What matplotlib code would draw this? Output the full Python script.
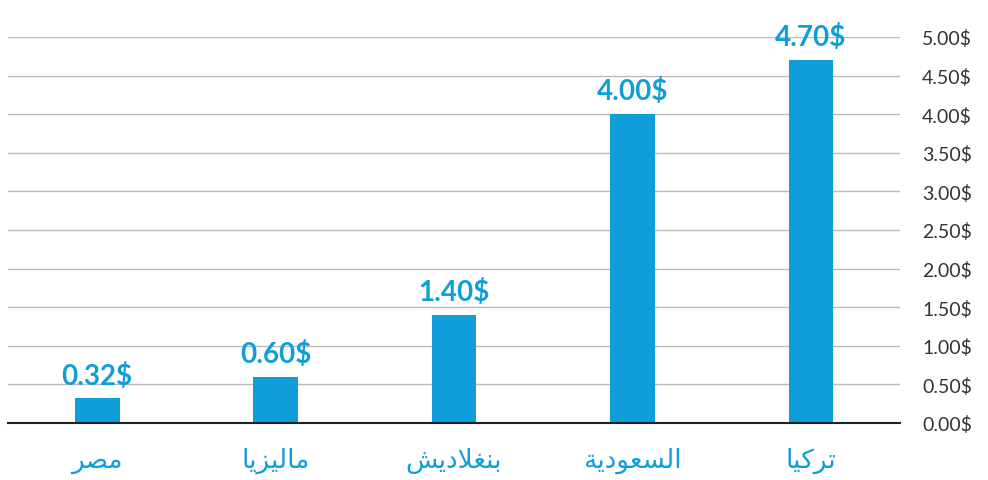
import matplotlib.pyplot as plt

# Arabic names written in presentation forms, visual (left-to-right) order,
# since matplotlib does no Arabic shaping on its own
countries = [
    "\uFEAE\uFEBC\uFEE3",                                        # مصر
    "\uFE8E\uFEF3\uFEB0\uFEF4\uFEDF\uFE8E\uFEE3",                # ماليزيا
    "\uFEB6\uFEF3\uFEA9\uFEFC\uFED0\uFEE8\uFE91",                # بنغلاديش
    "\uFE94\uFEF3\uFEA9\uFEEE\uFECC\uFEB4\uFEDF\uFE8D",          # السعودية
    "\uFE8E\uFEF4\uFEDB\uFEAE\uFE97",                            # تركيا
]
prices = [0.32, 0.60, 1.40, 4.00, 4.70]
ticks = [0, 0.5, 1.0, 1.5, 2.0, 2.5, 3.0, 3.5, 4.0, 4.5, 5.0]

blue = '#0e9fda'
plt.rcParams['font.family'] = ['Lato', 'DejaVu Sans']

fig = plt.figure(figsize=(9.88, 4.81), dpi=100)
ax = fig.add_axes([8 / 988, 57 / 481, 892 / 988, 386 / 481])

x = range(len(prices))
ax.bar(x, prices, width=0.25, color=blue, zorder=3)

for i, p in enumerate(prices):
    ax.annotate(f'{p:.2f}$', (i, p), xytext=(0, 7), textcoords='offset points',
                ha='center', va='bottom', fontsize=20, fontweight='bold',
                color=blue, annotation_clip=False)

ax.set_xlim(-0.5, 4.5)
ax.set_ylim(0, 5)
ax.set_yticks(ticks)
ax.set_yticklabels([f'{t:.2f}$' for t in ticks], fontsize=14, color='#333333')
ax.yaxis.tick_right()
ax.tick_params(axis='y', length=0, pad=16)
ax.set_xticks(list(x))
ax.set_xticklabels(countries, fontsize=19, color=blue, family='DejaVu Sans')
ax.tick_params(axis='x', length=0, pad=17)

ax.grid(axis='y', color='#bbbbbb', linewidth=1, zorder=0)
for s in ['top', 'left', 'right']:
    ax.spines[s].set_visible(False)
ax.spines['bottom'].set_color('#222222')
ax.spines['bottom'].set_linewidth(1.5)
ax.spines['bottom'].set_zorder(4)

fig.savefig('out.png', dpi=100)
